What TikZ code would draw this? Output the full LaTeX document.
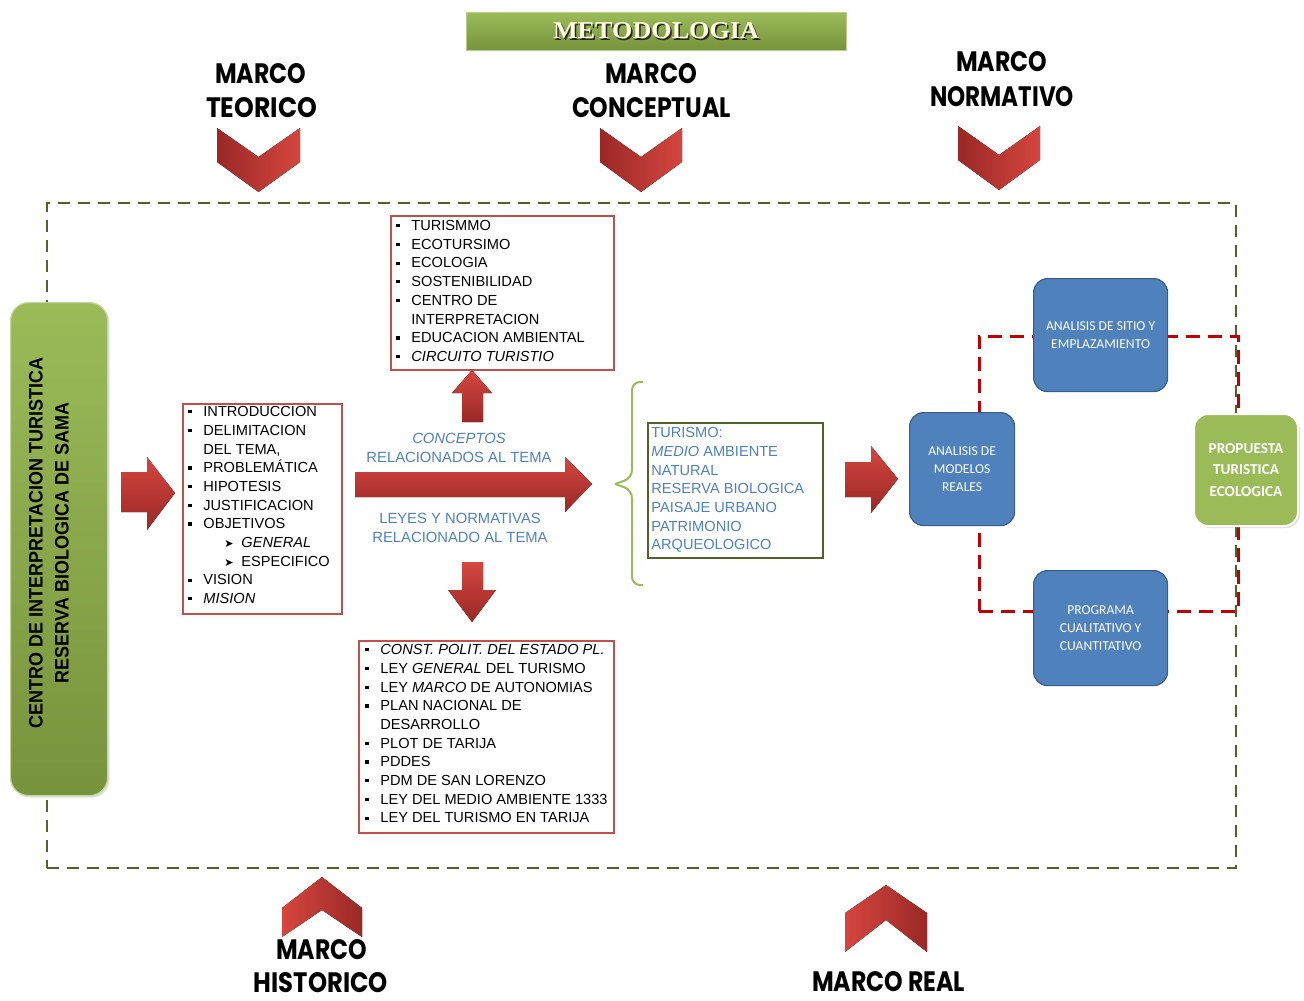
\documentclass[tikz,border=0pt]{standalone}
\usepackage{fontspec}
\setmainfont{Liberation Sans}
\newfontfamily\hfont{Poppins}
\newfontfamily\cfont{Carlito}
\newfontfamily\sfont{Liberation Serif}
\newfontfamily\dvfont{DejaVu Sans}
\usetikzlibrary{shadows}
\definecolor{rlight}{HTML}{D5463F}
\definecolor{rdark}{HTML}{9A2826}
\definecolor{gfill}{HTML}{9BBB59}
\definecolor{gdark}{HTML}{77933C}
\definecolor{olive}{HTML}{4F6228}
\definecolor{bfill}{HTML}{4F81BD}
\definecolor{bline}{HTML}{385D8A}
\definecolor{btext}{HTML}{4F81BD}
\definecolor{lred}{HTML}{C0504D}
\definecolor{dred}{HTML}{C00000}
\definecolor{cream}{HTML}{FFFBE0}
\newcommand{\bl}{\makebox[8.5pt][l]{\hspace{1pt}\rule[1.6pt]{1.6pt}{1.6pt}}}
\newcommand{\ct}{\hspace*{8.5pt}}
\newcommand{\subit}[1]{\makebox[27.5pt][l]{\hspace{19pt}{\dvfont\fontsize{5.5}{5.5}\selectfont ➤}}#1}
\tikzset{
  head/.style={inner sep=0pt, font=\hfont\bfseries, text=black},
  listbox/.style={draw=lred, line width=0.8pt, fill=white, anchor=north west, inner sep=0pt},
  listtext/.style={anchor=north west, inner sep=0pt, align=left, font=\fontsize{7.3}{9.35}\selectfont, text=black},
  bluebox/.style={fill=bfill, draw=bline, line width=0.6pt, rounded corners=7pt, anchor=north west, inner sep=0pt, text=white, align=center, font=\cfont\fontsize{6.8}{9.2}\selectfont},
  bluelbl/.style={inner sep=0pt, align=center, text=btext, font=\fontsize{7.4}{9.5}\selectfont},
}
\begin{document}
\begin{tikzpicture}[x=0.5pt,y=-0.5pt]
\useasboundingbox (0,0) rectangle (1304,1000);
% frames
\node[draw=olive, line width=1.2pt, dash pattern=on 6pt off 4pt, anchor=north west, minimum width=1189*0.5pt, minimum height=665*0.5pt, inner sep=0pt] (frame) at (46,202) {};
\node[draw=dred, line width=1.4pt, dash pattern=on 7pt off 4pt, anchor=north west, minimum width=259*0.5pt, minimum height=275*0.5pt, inner sep=0pt] (cycle) at (978,335) {};
% title bar
\node[top color=gfill, bottom color=gdark, draw=gfill!70!white, line width=0.5pt, anchor=north west, minimum width=380*0.5pt, minimum height=38*0.5pt, inner sep=0pt] (bar) at (466,12) {};
\node[inner sep=0pt, text=black!85, font=\sfont\bfseries] (titsh) at (657.5,32.5) {\resizebox{103pt}{8pt}{METODOLOGIA}};
\node[inner sep=0pt, text=cream, font=\sfont\bfseries] (tit) at (656,31) {\resizebox{103pt}{8pt}{METODOLOGIA}};
% headings
\node[head] (t1a) at (260.5,74) {\resizebox{45.5pt}{10pt}{MARCO}};
\node[head] (t1b) at (261.5,108) {\resizebox{55.5pt}{10pt}{TEORICO}};
\node[head] (t2a) at (651,74) {\resizebox{46pt}{10pt}{MARCO}};
\node[head] (t2b) at (651.5,108) {\resizebox{79.5pt}{10pt}{CONCEPTUAL}};
\node[head] (t3a) at (1001.5,62) {\resizebox{45.5pt}{10pt}{MARCO}};
\node[head] (t3b) at (1002,97) {\resizebox{72pt}{10pt}{NORMATIVO}};
\node[head] (t4a) at (321.5,950) {\resizebox{45.5pt}{10pt}{MARCO}};
\node[head] (t4b) at (321,983) {\resizebox{67pt}{10pt}{HISTORICO}};
\node[head] (t5) at (888.5,982) {\resizebox{76.5pt}{10pt}{MARCO REAL}};
% down chevrons
\fill[left color=rdark, right color=rlight] (217,128) -- (258.5,157) -- (300,128) -- (300,162) -- (258.5,192) -- (217,162) -- cycle;
\fill[left color=rdark, right color=rlight] (600,128) -- (641,157) -- (682,128) -- (682,162) -- (641,192) -- (600,162) -- cycle;
\fill[left color=rdark, right color=rlight] (958,126) -- (999,155) -- (1040,126) -- (1040,160) -- (999,190) -- (958,160) -- cycle;
% up chevrons
\fill[left color=rlight, right color=rdark] (282,937) -- (282,908) -- (322,877) -- (362,908) -- (362,937) -- (322,910) -- cycle;
\fill[left color=rlight, right color=rdark] (845,952) -- (845,913) -- (886,885) -- (927,913) -- (927,952) -- (886,920) -- cycle;
% main green vertical box
\node[top color=gfill, bottom color=gdark, draw=gfill!60!white, line width=0.6pt, rounded corners=9pt, anchor=north west, minimum width=97*0.5pt, minimum height=493*0.5pt, inner sep=0pt, drop shadow={opacity=0.25, shadow xshift=1pt, shadow yshift=-1pt}] (main) at (10,302) {};
\node[rotate=90, inner sep=0pt, font=\bfseries, text=black] (vt1) at (36,543) {\resizebox{185pt}{6.8pt}{CENTRO DE INTERPRETACION TURISTICA}};
\node[rotate=90, inner sep=0pt, font=\bfseries, text=black] (vt2) at (62,543) {\resizebox{140pt}{6.8pt}{RESERVA BIOLOGICA DE SAMA}};
% arrow into list
\fill[top color=rlight, bottom color=rdark] (121,472) -- (147,472) -- (147,457) -- (175,493) -- (147,530) -- (147,512) -- (121,512) -- cycle;
% list box 1
\node[listbox, minimum width=159*0.5pt, minimum height=210*0.5pt] (b1) at (182,403) {};
\node[listtext] (b1t) at (186,406) {\bl INTRODUCCION\\ \bl DELIMITACION\\ \ct DEL TEMA,\\ \bl PROBLEMÁTICA\\ \bl HIPOTESIS\\ \bl JUSTIFICACION\\ \bl OBJETIVOS\\ \subit{\textit{GENERAL}}\\ \subit{ESPECIFICO}\\ \bl VISION\\ \bl \textit{MISION}};
% top list box
\node[listbox, minimum width=223*0.5pt, minimum height=154*0.5pt] (b2) at (390,215) {};
\node[listtext] (b2t) at (394,220) {\bl TURISMMO\\ \bl ECOTURSIMO\\ \bl ECOLOGIA\\ \bl SOSTENIBILIDAD\\ \bl CENTRO DE\\ \ct INTERPRETACION\\ \bl EDUCACION AMBIENTAL\\ \bl \textit{CIRCUITO TURISTIO}};
% bottom list box
\node[listbox, minimum width=255*0.5pt, minimum height=192*0.5pt] (b3) at (358,640) {};
\node[listtext] (b3t) at (363,644) {\bl \textit{CONST. POLIT. DEL ESTADO PL.}\\ \bl LEY \textit{GENERAL} DEL TURISMO\\ \bl LEY \textit{MARCO} DE AUTONOMIAS\\ \bl PLAN NACIONAL DE\\ \ct DESARROLLO\\ \bl PLOT DE TARIJA\\ \bl PDDES\\ \bl PDM DE SAN LORENZO\\ \bl LEY DEL MEDIO AMBIENTE 1333\\ \bl LEY DEL TURISMO EN TARIJA};
% central arrows
\fill[top color=rlight, bottom color=rdark] (355,472) -- (565,472) -- (565,457) -- (592,484) -- (565,512) -- (565,497) -- (355,497) -- cycle;
\fill[top color=rlight, bottom color=rdark] (462,422) -- (462,393) -- (452,393) -- (472,370) -- (492,393) -- (483,393) -- (483,422) -- cycle;
\fill[top color=rlight, bottom color=rdark] (462,562) -- (483,562) -- (483,590) -- (496,590) -- (472,622) -- (448,590) -- (462,590) -- cycle;
\node[bluelbl] (lbl1) at (459,447.5) {\textit{CONCEPTOS}\\RELACIONADOS AL TEMA};
\node[bluelbl] (lbl2) at (460,527.5) {LEYES Y NORMATIVAS\\RELACIONADO AL TEMA};
% brace
\draw[gfill, line width=1pt, rounded corners=4pt] (643,382) -- (632,382) -- (632,478) -- (615,484);
\draw[gfill, line width=1pt, rounded corners=4pt] (615,484) -- (632,490) -- (632,585) -- (643,585);
% green bordered box
\node[draw=olive, line width=0.8pt, fill=white, anchor=north west, minimum width=175*0.5pt, minimum height=135*0.5pt, inner sep=0pt] (b4) at (647,422) {};
\node[listtext, text=btext] (b4t) at (651,427) {TURISMO:\\ \textit{MEDIO} AMBIENTE\\ NATURAL\\ RESERVA BIOLOGICA\\ PAISAJE URBANO\\ PATRIMONIO\\ ARQUEOLOGICO};
% arrow to cycle
\fill[top color=rlight, bottom color=rdark] (845,462) -- (871,462) -- (871,446) -- (898,479) -- (871,513) -- (871,497) -- (845,497) -- cycle;
% blue boxes
\node[bluebox, minimum width=105*0.5pt, minimum height=113*0.5pt] (mod) at (909,412) {ANALISIS DE\\MODELOS\\REALES};
\node[bluebox, minimum width=134*0.5pt, minimum height=113*0.5pt] (sit) at (1033,278) {ANALISIS DE SITIO Y\\EMPLAZAMIENTO};
\node[bluebox, minimum width=134*0.5pt, minimum height=115*0.5pt] (prg) at (1033,570) {PROGRAMA\\CUALITATIVO Y\\CUANTITATIVO};
\node[fill=gfill, draw=white, line width=1pt, rounded corners=7pt, anchor=north west, minimum width=104*0.5pt, minimum height=112*0.5pt, inner sep=0pt, text=white, align=center, font=\cfont\bfseries\fontsize{7.6}{10.8}\selectfont, drop shadow={opacity=0.25, shadow xshift=1pt, shadow yshift=-1pt}] (prop) at (1193,413) {PROPUESTA\\TURISTICA\\ECOLOGICA};
\end{tikzpicture}
\end{document}
